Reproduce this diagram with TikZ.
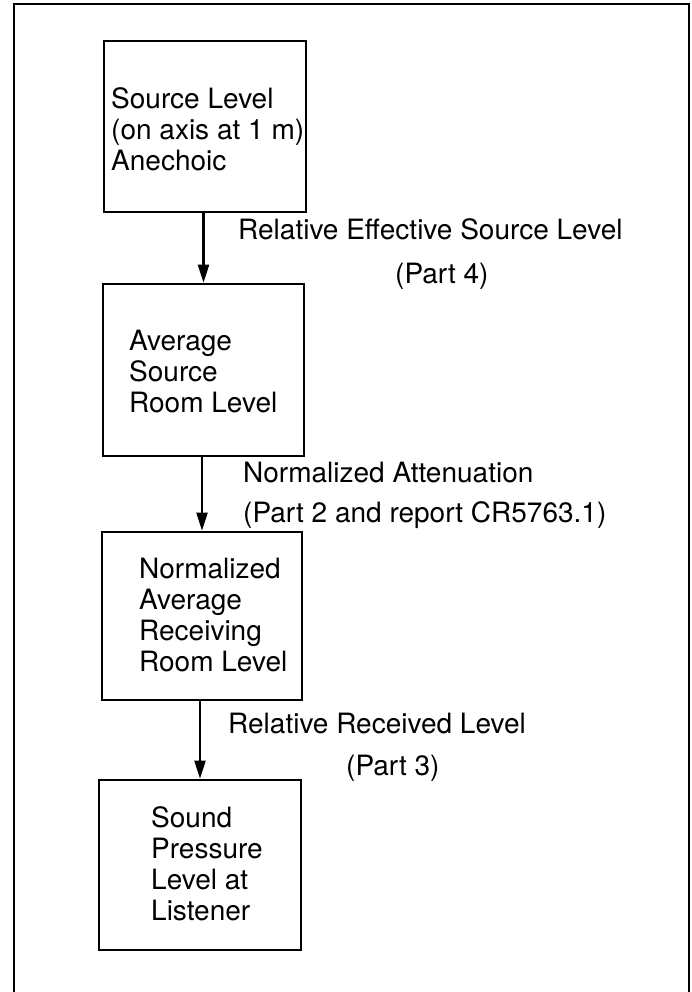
\documentclass[tikz,border=0pt]{standalone}
\usepackage{fontspec}
\setmainfont{TeX Gyre Heros}
\usepackage{tikz}
\usetikzlibrary{positioning,arrows.meta}

\begin{document}
\begin{tikzpicture}[x=1pt, y=-1pt, font=\fontsize{28}{31}\selectfont,
  stage/.style={draw=black, line width=2.6pt, minimum width=202pt, minimum height=171pt, inner sep=0pt},
  stagetext/.style={anchor=west, align=left, inner sep=0pt},
  note/.style={anchor=base west, inner sep=0pt},
  flow/.style={-{Triangle[length=18pt, width=11pt]}, draw=black, line width=2.2pt}]
\useasboundingbox (0,0) rectangle (692,992);
% outer frame, runs off the bottom of the page
\draw[line width=2.4pt] (14,1000) |- (689,4) -- (689,1000);
% level boxes
\node[stage] (src) at (205,126.5) {};
\node[stage, minimum width=201pt, minimum height=172pt] (avg) at (203.5,370) {};
\node[stage, minimum width=200pt, minimum height=168pt] (rcv) at (202,616) {};
\node[stage, minimum height=170pt] (spl) at (200,865) {};
\node[stagetext] (srcTxt) at (111,129.5) {Source Level\\(on axis at 1 m)\\Anechoic};
\node[stagetext] (avgTxt) at (129,371.5) {Average\\Source\\Room Level};
\node[stagetext] (rcvTxt) at (139,615) {Normalized\\Average\\Receiving\\Room Level};
\node[stagetext] (splTxt) at (151,863.5) {Sound\\Pressure\\Level at\\Listener};
% transfer steps
\draw[flow] (src.south -| avg.north) -- (avg.north);
\draw[flow] (avg.south -| rcv.north) -- (rcv.north);
\draw[flow] (rcv.south -| spl.north) -- (spl.north);
\node[note] (resl) at (238,240) {Relative Effective Source Level};
\node[note] (part4) at (395,283) {(Part 4)};
\node[note] (natt) at (243,482) {Normalized Attenuation};
\node[note] (part2) at (243,522) {(Part 2 and report CR5763.1)};
\node[note] (rrl) at (228,733) {Relative Received Level};
\node[note] (part3) at (346,775) {(Part 3)};
\end{tikzpicture}
\end{document}
